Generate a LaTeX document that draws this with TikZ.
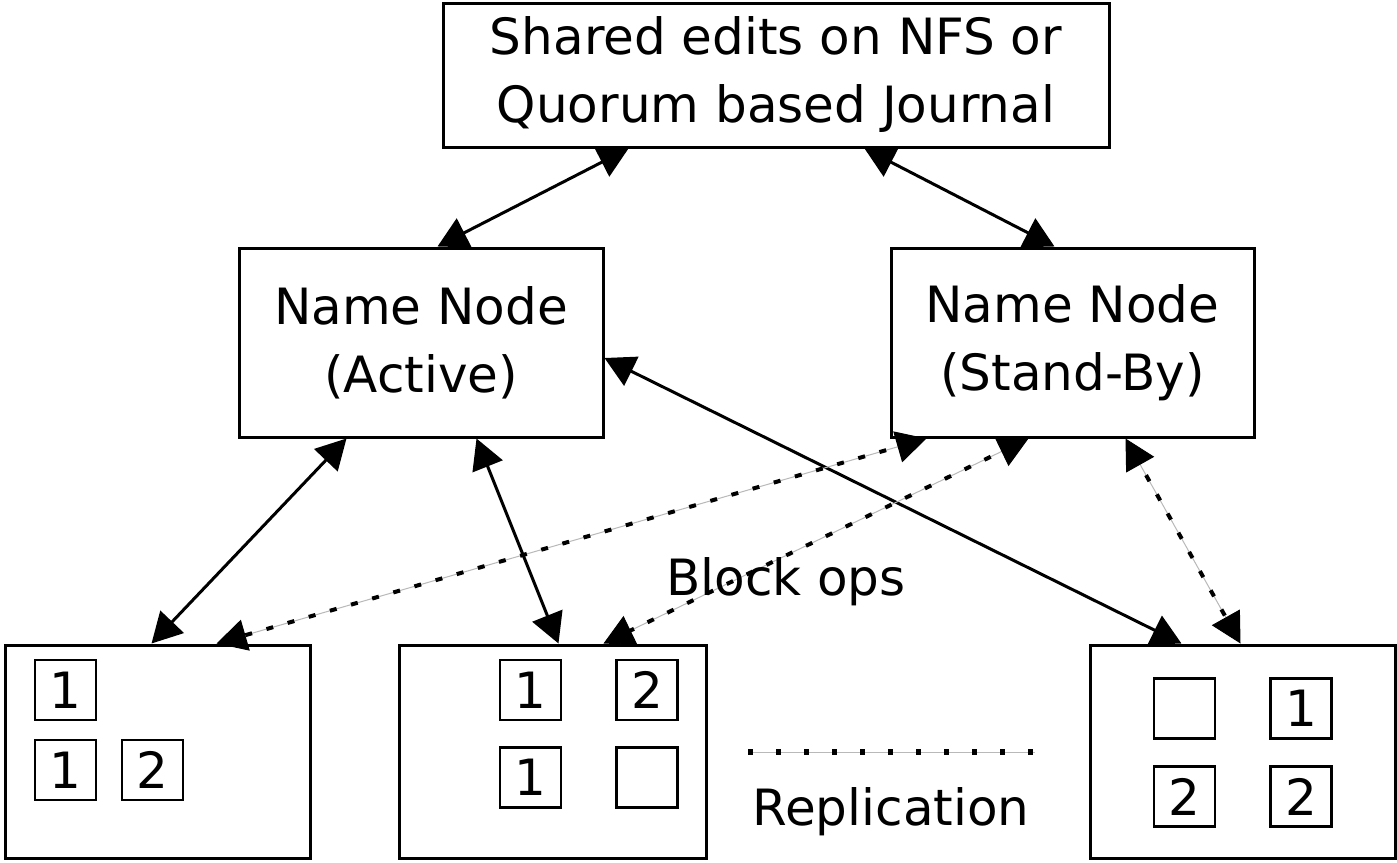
\documentclass[tikz,border=0pt]{standalone}
\usepackage{fontspec}
\setmainfont{DejaVu Sans}
\usetikzlibrary{arrows.meta,calc}
\newcommand{\mainfs}{\fontsize{25}{34}\selectfont}
\begin{document}
\begin{tikzpicture}[x=0.5pt,y=-0.5pt,
  box/.style={draw, line width=1.5pt, inner sep=0pt, align=center, font=\mainfs},
  blk/.style={draw, line width=1.2pt, minimum width=30.5pt, minimum height=30pt,
    inner sep=0pt, font=\mainfs},
  link/.style={line width=1.5pt,
    {Triangle[length=15pt,width=16pt]}-{Triangle[length=15pt,width=16pt]}},
  repl/.style={draw=gray!55, line width=0.5pt,
    {Triangle[length=15pt,width=16pt,color=black]}-{Triangle[length=15pt,width=16pt,color=black]},
    postaction={draw=black, line width=2pt, dash pattern=on 3.5pt off 7.5pt,
      arrows=-, shorten >=10pt, shorten <=10pt}},
  legendline/.style={draw=gray!55, line width=0.5pt,
    postaction={draw=black, line width=2.6pt, dash pattern=on 2.6pt off 11.4pt}},
  lbl/.style={font=\mainfs, inner sep=0pt, anchor=base}
]
\useasboundingbox (0,0) rectangle (1397,862);
\fill[white] (0,0) rectangle (1397,862);

% journal and name nodes
\node[box, minimum width=333pt, minimum height=72pt] (top) at (776,75)
  {Shared edits on NFS or\\Quorum based Journal};
\node[box, minimum width=182pt, minimum height=94.5pt] (act) at (421,342.5)
  {Name Node\\(Active)};
\node[box, minimum width=181.5pt, minimum height=94.5pt] (sb) at (1072.5,342.5)
  {Name Node\\(Stand-By)};

% data nodes
\node[box, minimum width=152.5pt, minimum height=106.5pt] (bl) at (157.5,751.5) {};
\node[box, minimum width=153.5pt, minimum height=106.5pt] (bm) at (552.5,751.5) {};
\node[box, minimum width=152.5pt, minimum height=106.5pt] (br) at (1242.5,751.5) {};

% blocks held by each data node
\node[blk] (bl1) at (65.5,690) {1};
\node[blk] (bl2) at (65.5,770) {1};
\node[blk] (bl3) at (152.5,770) {2};

\node[blk] (bm1) at (530.5,690) {1};
\node[blk] (bm2) at (647,690) {2};
\node[blk] (bm3) at (530.5,777.5) {1};
\node[blk] (bm4) at (647,777.5) {};

\node[blk] (br1) at (1184.5,708.5) {};
\node[blk] (br2) at (1301,708.5) {1};
\node[blk] (br3) at (1184.5,796.5) {2};
\node[blk] (br4) at (1301,796.5) {2};

% shared edits
\draw[link] ($(top.south west)+(187,0)$) -- ($(act.north west)+(200,0)$);
\draw[link] ($(top.south west)+(423,0)$) -- ($(sb.north west)+(165,0)$);

% block operations from the active name node
\draw[link] ($(act.south west)+(109,0)$) -- ($(bl.north west)+(148,0)$);
\draw[link] ($(act.south west)+(239,0)$) -- ($(bm.north west)+(161,0)$);
\draw[link] ($(act.east)+(0,15.5)$) -- ($(br.north west)+(93,0)$);

% block reports to the stand-by name node
\draw[repl] ($(sb.south west)+(37,0)$) -- ($(bl.north west)+(213,0)$);
\draw[repl] ($(sb.south west)+(139,0)$) -- ($(bm.north west)+(206,0)$);
\draw[repl] ($(sb.south west)+(236,0)$) -- ($(br.north west)+(152,0)$);

\node[lbl] (ops) at (786,595) {Block ops};

% legend
\coordinate (la) at (748,752);
\coordinate (lb) at (1035,752);
\draw[legendline] (la) -- (lb);
\node[lbl] (rep) at (891,825) {Replication};
\end{tikzpicture}
\end{document}
